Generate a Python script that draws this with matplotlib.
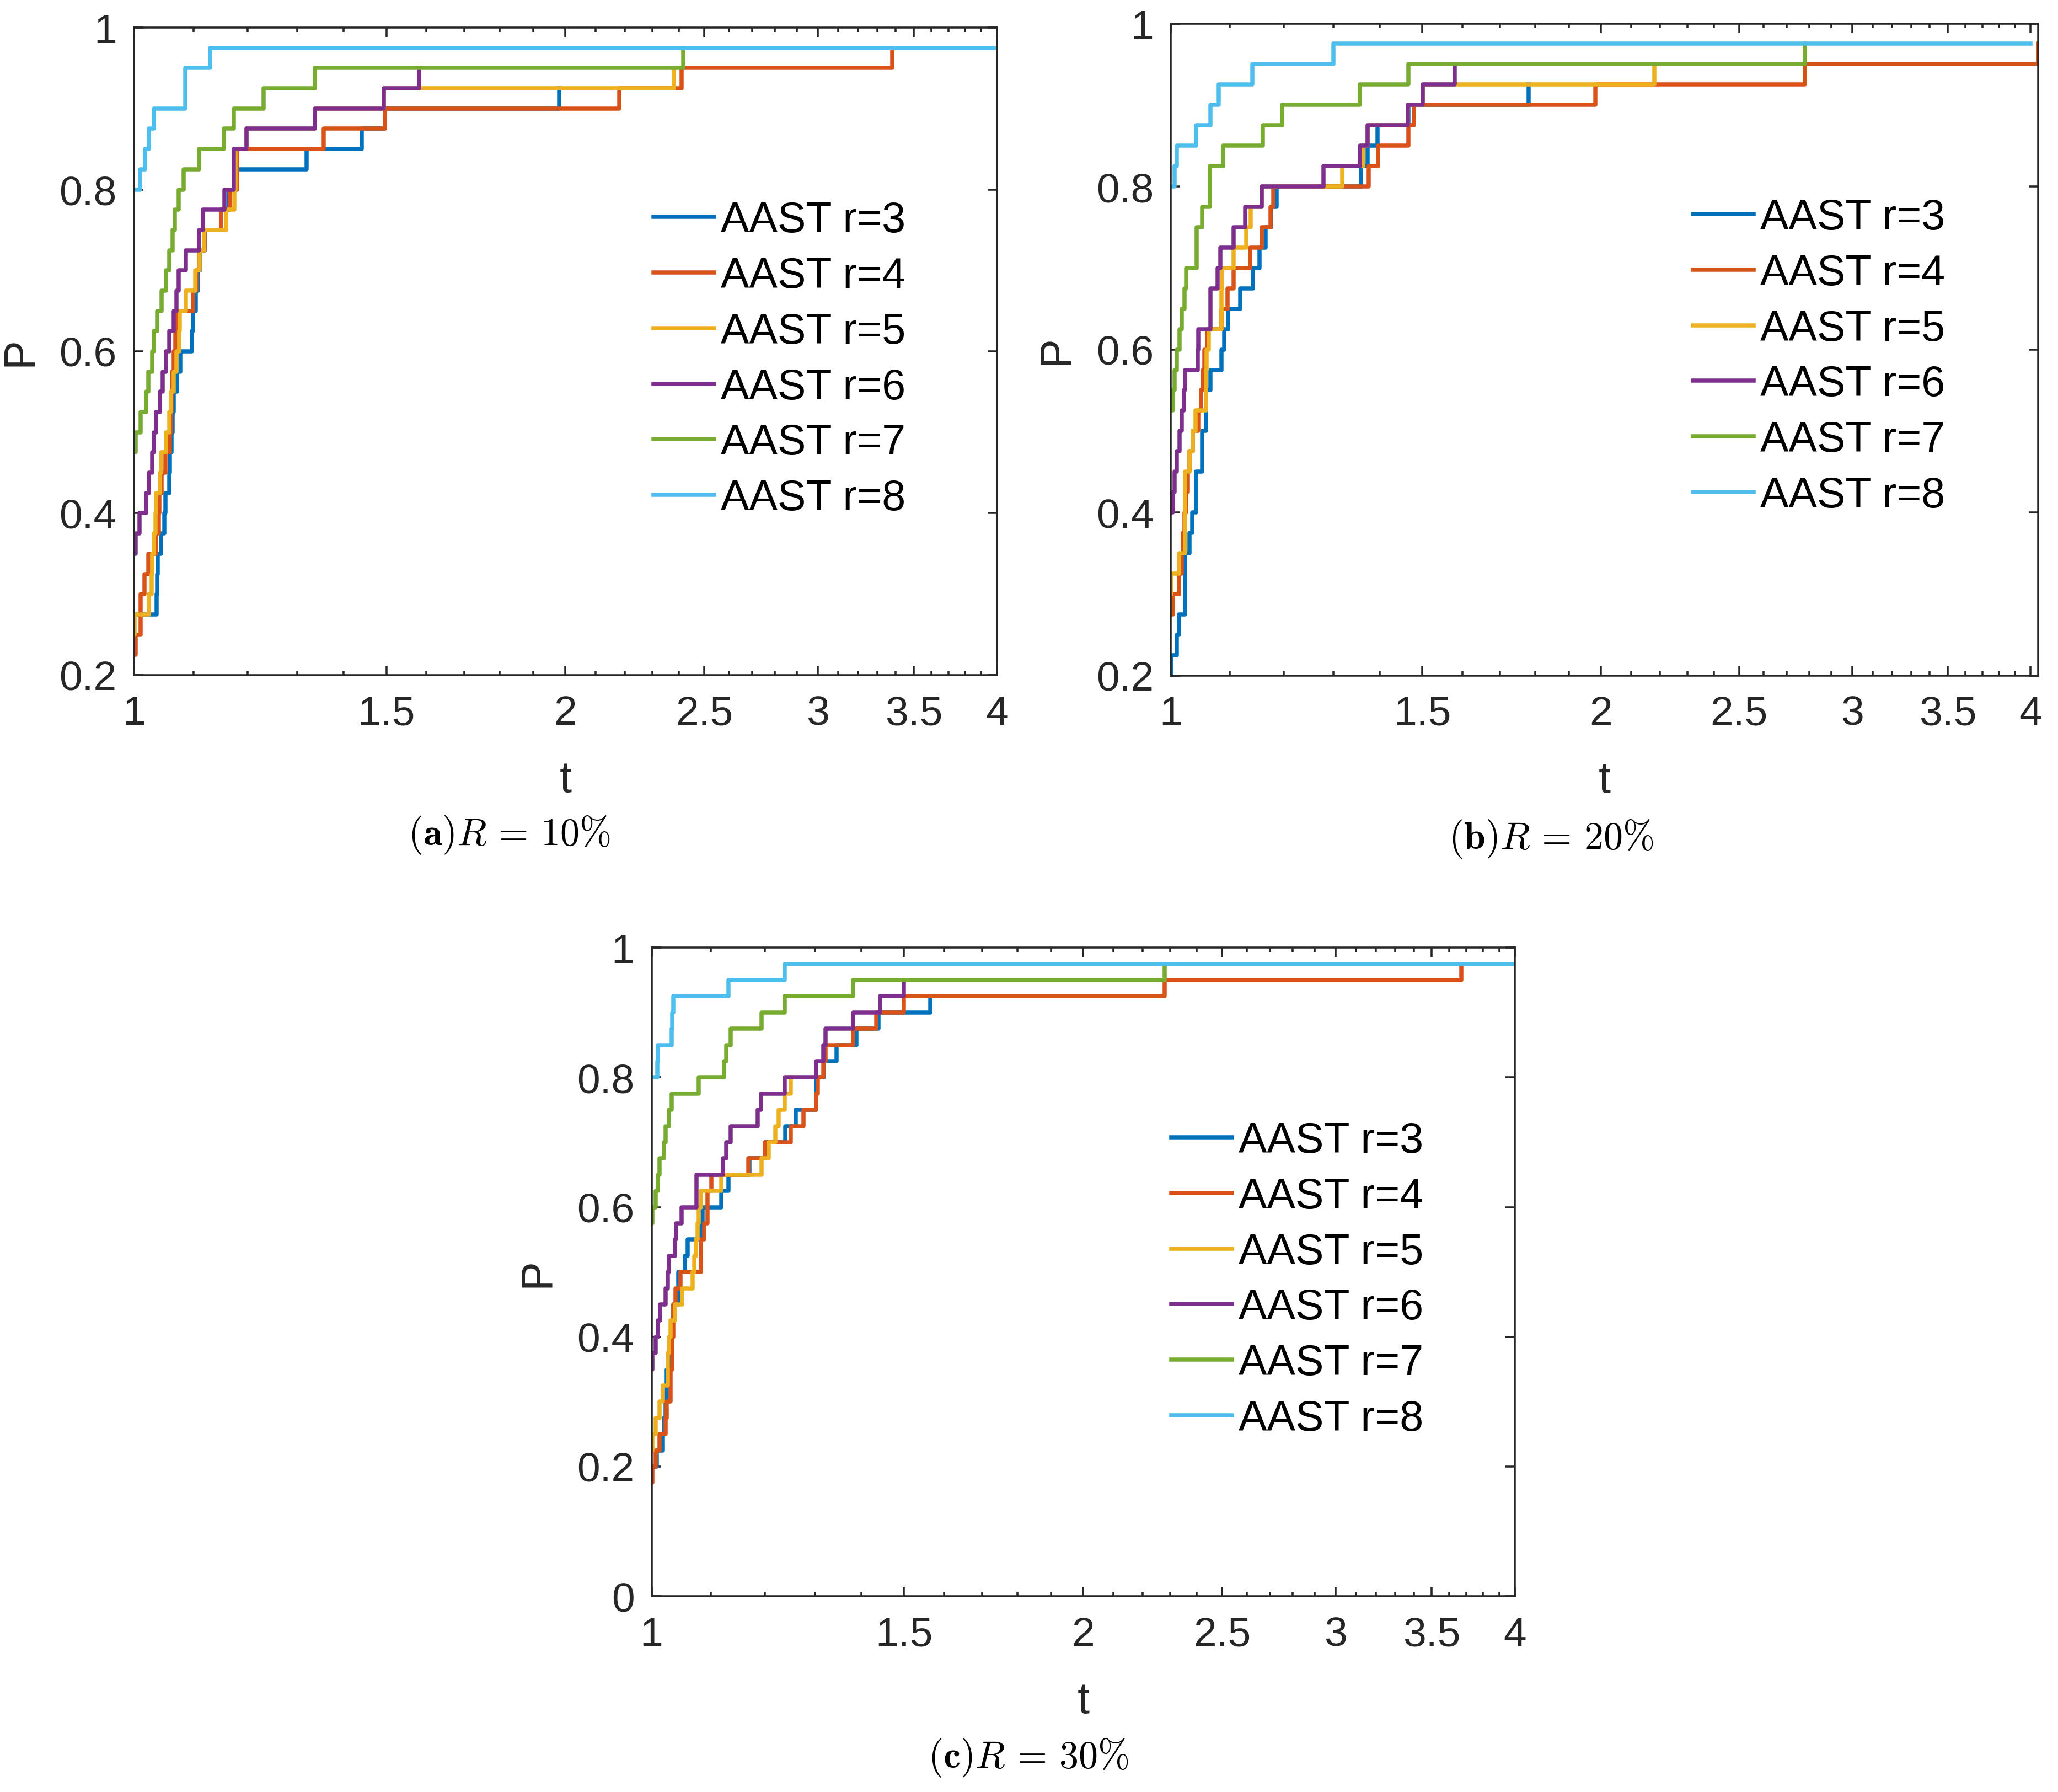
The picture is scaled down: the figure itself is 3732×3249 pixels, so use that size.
import numpy as np
import matplotlib
matplotlib.use('Agg')
import matplotlib.pyplot as plt
from matplotlib.ticker import FixedLocator, FixedFormatter

plt.rcParams['font.family'] = ['Liberation Sans', 'DejaVu Sans']
plt.rcParams['mathtext.fontset'] = 'cm'

# performance profiles, 40 problems -> steps of 0.025
LABELS = ['AAST r=3', 'AAST r=4', 'AAST r=5', 'AAST r=6', 'AAST r=7', 'AAST r=8']
COLORS = ['#0072BD', '#D95319', '#EDB120', '#7E2F8E', '#77AC30', '#4DBEEE']

# ---- (a) R = 10%
T_A3 = [1.0, 1.037, 1.038, 1.039, 1.044, 1.050, 1.052, 1.058, 1.059, 1.062, 1.064, 1.066, 1.072, 1.077,
        1.098, 1.099, 1.104, 1.108, 1.112, 1.12, 1.15, 1.165, 1.175, 1.32, 1.442, 1.497, 1.98]
P_A3 = [0.275, 0.3, 0.325, 0.35, 0.375, 0.4, 0.425, 0.45, 0.475, 0.5, 0.525, 0.55, 0.575, 0.6,
        0.625, 0.65, 0.675, 0.7, 0.725, 0.75, 0.775, 0.8, 0.825, 0.85, 0.875, 0.9, 0.925]
T_A4 = [1.0, 1.003, 1.011, 1.017, 1.023, 1.036, 1.041, 1.042, 1.045, 1.052, 1.059, 1.061, 1.062, 1.063,
        1.066, 1.069, 1.072, 1.099, 1.105, 1.11, 1.12, 1.15, 1.167, 1.18, 1.356, 1.497, 2.18, 2.41, 3.38]
P_A4 = [0.225, 0.25, 0.3, 0.325, 0.35, 0.375, 0.4, 0.425, 0.45, 0.475, 0.5, 0.525, 0.55, 0.575,
        0.6, 0.625, 0.65, 0.675, 0.7, 0.725, 0.75, 0.775, 0.8, 0.85, 0.875, 0.9, 0.925, 0.95, 0.975]
T_A5 = [1.0, 1.001, 1.024, 1.029, 1.030, 1.032, 1.035, 1.036, 1.0425, 1.044, 1.053, 1.058, 1.061, 1.066,
        1.071, 1.075, 1.076, 1.087, 1.103, 1.111, 1.119, 1.159, 1.175, 1.177, 1.198, 1.337, 1.494, 2.38]
P_A5 = [0.25, 0.275, 0.3, 0.325, 0.35, 0.375, 0.4, 0.425, 0.45, 0.475, 0.5, 0.525, 0.55, 0.575,
        0.6, 0.625, 0.65, 0.675, 0.7, 0.725, 0.75, 0.775, 0.8, 0.85, 0.875, 0.9, 0.925, 0.95]
T_A6 = [1.0, 1.003, 1.009, 1.020, 1.024, 1.030, 1.032, 1.036, 1.0425, 1.047, 1.053, 1.058, 1.066, 1.071,
        1.074, 1.087, 1.110, 1.117, 1.156, 1.174, 1.198, 1.337, 1.494, 1.581]
P_A6 = [0.35, 0.375, 0.4, 0.425, 0.45, 0.475, 0.5, 0.525, 0.55, 0.575, 0.6, 0.625, 0.65, 0.675,
        0.7, 0.725, 0.75, 0.775, 0.8, 0.85, 0.875, 0.9, 0.925, 0.95]
T_A7 = [1.0, 1.003, 1.011, 1.020, 1.023, 1.030, 1.032, 1.038, 1.045, 1.053, 1.058, 1.064, 1.068, 1.074,
        1.083, 1.110, 1.155, 1.174, 1.232, 1.337, 2.416]
P_A7 = [0.475, 0.5, 0.525, 0.55, 0.575, 0.6, 0.625, 0.65, 0.675, 0.7, 0.725, 0.75, 0.775, 0.8,
        0.825, 0.85, 0.875, 0.9, 0.925, 0.95, 0.975]
T_A8 = [1.0, 1.010, 1.018, 1.024, 1.032, 1.086, 1.130, 4.0]
P_A8 = [0.8, 0.825, 0.85, 0.875, 0.9, 0.95, 0.975, 0.975]

# ---- (b) R = 20%
T_B3 = [1.0, 1.001, 1.010, 1.013, 1.023, 1.031, 1.035, 1.042, 1.052, 1.058, 1.066, 1.085, 1.090, 1.097,
        1.118, 1.142, 1.154, 1.165, 1.175, 1.186, 1.359, 1.374, 1.395, 1.467, 1.781]
P_B3 = [0.2, 0.225, 0.25, 0.275, 0.35, 0.375, 0.4, 0.45, 0.5, 0.55, 0.575, 0.6, 0.625, 0.65,
        0.675, 0.7, 0.725, 0.75, 0.775, 0.8, 0.825, 0.85, 0.875, 0.9, 0.925]
T_B4 = [1.0, 1.003, 1.013, 1.018, 1.020, 1.022, 1.025, 1.028, 1.031, 1.036, 1.045, 1.050, 1.053, 1.056,
        1.0605, 1.085, 1.096, 1.107, 1.136, 1.158, 1.174, 1.180, 1.376, 1.397, 1.467, 1.480, 1.982, 2.78, 4.05]
P_B4 = [0.275, 0.3, 0.325, 0.35, 0.375, 0.4, 0.425, 0.45, 0.475, 0.5, 0.525, 0.55, 0.575, 0.6,
        0.625, 0.65, 0.675, 0.7, 0.725, 0.75, 0.775, 0.8, 0.825, 0.85, 0.875, 0.9, 0.925, 0.95, 0.975]
T_B5 = [1.0, 1.001, 1.013, 1.023, 1.031, 1.036, 1.041, 1.058, 1.059, 1.063, 1.085, 1.086, 1.107, 1.129,
        1.137, 1.158, 1.318, 1.364, 1.374, 1.465, 1.501, 2.18]
P_B5 = [0.3, 0.325, 0.35, 0.45, 0.475, 0.5, 0.525, 0.575, 0.6, 0.625, 0.675, 0.7, 0.725, 0.75,
        0.775, 0.8, 0.825, 0.85, 0.875, 0.9, 0.925, 0.95]
T_B6 = [1.0, 1.003, 1.006, 1.010, 1.014, 1.018, 1.021, 1.023, 1.044, 1.045, 1.066, 1.078, 1.083, 1.107,
        1.127, 1.158, 1.279, 1.357, 1.374, 1.465, 1.501, 1.581]
P_B6 = [0.4, 0.425, 0.45, 0.475, 0.5, 0.525, 0.55, 0.575, 0.6, 0.625, 0.675, 0.7, 0.725, 0.75,
        0.775, 0.8, 0.825, 0.85, 0.875, 0.9, 0.925, 0.95]
T_B7 = [1.0, 1.003, 1.006, 1.010, 1.014, 1.018, 1.022, 1.025, 1.043, 1.052, 1.065, 1.088, 1.160, 1.197,
        1.357, 1.467, 2.78]
P_B7 = [0.525, 0.55, 0.575, 0.6, 0.625, 0.65, 0.675, 0.7, 0.75, 0.775, 0.825, 0.85, 0.875, 0.9,
        0.925, 0.95, 0.975]
T_B8 = [1.0, 1.006, 1.010, 1.042, 1.066, 1.080, 1.141, 1.30, 4.0]
P_B8 = [0.8, 0.825, 0.85, 0.875, 0.9, 0.925, 0.95, 0.975, 0.975]

# ---- (c) R = 30%
T_C3 = [1.0, 1.008, 1.018, 1.020, 1.023, 1.025, 1.028, 1.031, 1.034, 1.036, 1.044, 1.055, 1.060, 1.082,
        1.085, 1.118, 1.131, 1.17, 1.2, 1.24, 1.26, 1.303, 1.319, 1.346, 1.39, 1.44, 1.564]
P_C3 = [0.2, 0.225, 0.25, 0.275, 0.3, 0.35, 0.375, 0.4, 0.425, 0.45, 0.5, 0.525, 0.55, 0.575,
        0.6, 0.625, 0.65, 0.675, 0.7, 0.725, 0.75, 0.8, 0.825, 0.85, 0.875, 0.9, 0.925]
T_C4 = [1.0, 1.0015, 1.0066, 1.0128, 1.023, 1.025, 1.031, 1.034, 1.036, 1.039, 1.048, 1.082, 1.088, 1.094,
        1.101, 1.168, 1.2, 1.251, 1.276, 1.303, 1.306, 1.317, 1.322, 1.382, 1.435, 1.50, 2.28, 3.67]
P_C4 = [0.175, 0.2, 0.225, 0.25, 0.275, 0.3, 0.35, 0.4, 0.45, 0.475, 0.5, 0.55, 0.575, 0.625,
        0.65, 0.675, 0.7, 0.725, 0.75, 0.775, 0.8, 0.825, 0.85, 0.875, 0.9, 0.925, 0.95, 0.975]
T_C5 = [1.0, 1.0015, 1.0066, 1.0128, 1.018, 1.026, 1.028, 1.031, 1.038, 1.050, 1.068, 1.071, 1.074, 1.077,
        1.079, 1.082, 1.118, 1.193, 1.207, 1.220, 1.226, 1.238, 1.251]
P_C5 = [0.225, 0.25, 0.275, 0.3, 0.325, 0.375, 0.4, 0.425, 0.45, 0.475, 0.5, 0.525, 0.55, 0.575,
        0.6, 0.625, 0.65, 0.675, 0.7, 0.725, 0.75, 0.775, 0.8]
T_C6 = [1.0, 1.0015, 1.0066, 1.010, 1.014, 1.023, 1.026, 1.028, 1.038, 1.040, 1.049, 1.075, 1.121, 1.127,
        1.135, 1.186, 1.192, 1.238, 1.303, 1.318, 1.322, 1.382, 1.444, 1.50]
P_C6 = [0.35, 0.375, 0.4, 0.425, 0.45, 0.475, 0.5, 0.525, 0.55, 0.575, 0.6, 0.65, 0.675, 0.7,
        0.725, 0.75, 0.775, 0.8, 0.825, 0.85, 0.875, 0.9, 0.925, 0.95]
T_C7 = [1.0, 1.0015, 1.0066, 1.010, 1.0128, 1.0205, 1.023, 1.028, 1.033, 1.079, 1.123, 1.127, 1.135, 1.193,
        1.238, 1.382, 2.28]
P_C7 = [0.575, 0.6, 0.625, 0.65, 0.675, 0.7, 0.725, 0.75, 0.775, 0.8, 0.825, 0.85, 0.875, 0.9,
        0.925, 0.95, 0.975]
T_C8 = [1.0, 1.009, 1.010, 1.033, 1.034, 1.036, 1.131, 1.238, 4.0]
P_C8 = [0.8, 0.825, 0.85, 0.875, 0.9, 0.925, 0.95, 0.975, 0.975]

XTICKS = [1, 1.5, 2, 2.5, 3, 3.5, 4]
XTICKLABELS = ['1', '1.5', '2', '2.5', '3', '3.5', '4']
XMINOR = [round(1 + 0.1 * i, 1) for i in range(1, 31)]

panels = [
    dict(rect=[0.0651, 0.6231, 0.4193, 0.3612], xmax=4.0, ylim=(0.2, 1),
         yticks=[0.2, 0.4, 0.6, 0.8, 1], ylabels=['0.2', '0.4', '0.6', '0.8', '1'],
         series=[(T_A3, P_A3), (T_A4, P_A4), (T_A5, P_A5), (T_A6, P_A6), (T_A7, P_A7), (T_A8, P_A8)],
         caption=r'$(\mathbf{a})R\, =\, 10\%$', cap_xy=(0.2476, 0.534)),
    dict(rect=[0.5689, 0.6229, 0.4215, 0.3637], xmax=4.05, ylim=(0.2, 1),
         yticks=[0.2, 0.4, 0.6, 0.8, 1], ylabels=['0.2', '0.4', '0.6', '0.8', '1'],
         series=[(T_B3, P_B3), (T_B4, P_B4), (T_B5, P_B5), (T_B6, P_B6), (T_B7, P_B7), (T_B8, P_B8)],
         caption=r'$(\mathbf{b})R\, =\, 20\%$', cap_xy=(0.7537, 0.532)),
    dict(rect=[0.3166, 0.1092, 0.4195, 0.3618], xmax=4.0, ylim=(0, 1),
         yticks=[0, 0.2, 0.4, 0.6, 0.8, 1], ylabels=['0', '0.2', '0.4', '0.6', '0.8', '1'],
         series=[(T_C3, P_C3), (T_C4, P_C4), (T_C5, P_C5), (T_C6, P_C6), (T_C7, P_C7), (T_C8, P_C8)],
         caption=r'$(\mathbf{c})R\, =\, 30\%$', cap_xy=(0.4997, 0.0194)),
]

fig = plt.figure(figsize=(12.44, 10.8333), dpi=300)

for pn in panels:
    ax = fig.add_axes(pn['rect'])
    for (t, p), lab, col in zip(pn['series'], LABELS, COLORS):
        ax.step(t, p, where='post', color=col, lw=1.8, label=lab)
    ax.set_xscale('log', base=2)
    ax.set_xlim(1, pn['xmax'])
    ax.set_ylim(*pn['ylim'])
    ax.xaxis.set_major_locator(FixedLocator(XTICKS))
    ax.xaxis.set_major_formatter(FixedFormatter(XTICKLABELS))
    ax.xaxis.set_minor_locator(FixedLocator(XMINOR))
    ax.xaxis.set_minor_formatter(FixedFormatter([]))
    ax.set_yticks(pn['yticks'])
    ax.set_yticklabels(pn['ylabels'])
    for s in ax.spines.values():
        s.set_color('#262626')
        s.set_linewidth(0.85)
    ax.tick_params(which='both', direction='in', top=True, right=True,
                   color='#262626', width=0.85, labelcolor='#262626', labelsize=18)
    ax.tick_params(which='major', length=4.1)
    ax.tick_params(which='minor', length=2.0)
    ax.tick_params(axis='x', pad=8.5)
    ax.tick_params(axis='y', pad=7.5)
    ax.set_xlabel('t', fontsize=19, color='#262626')
    ax.set_ylabel('P', fontsize=19, color='#262626')
    ax.xaxis.set_label_coords(0.5, -0.130)
    ax.yaxis.set_label_coords(-0.108, 0.5)
    ax.legend(loc='upper left', bbox_to_anchor=(0.602, 0.733), borderaxespad=0, borderpad=0,
              frameon=False, fontsize=18.5, handlelength=1.43, handletextpad=0.15, labelspacing=0.36)
    fig.text(pn['cap_xy'][0], pn['cap_xy'][1], pn['caption'], fontsize=16.8,
             ha='center', va='center', color='black')

fig.savefig('out.png', dpi=300)
